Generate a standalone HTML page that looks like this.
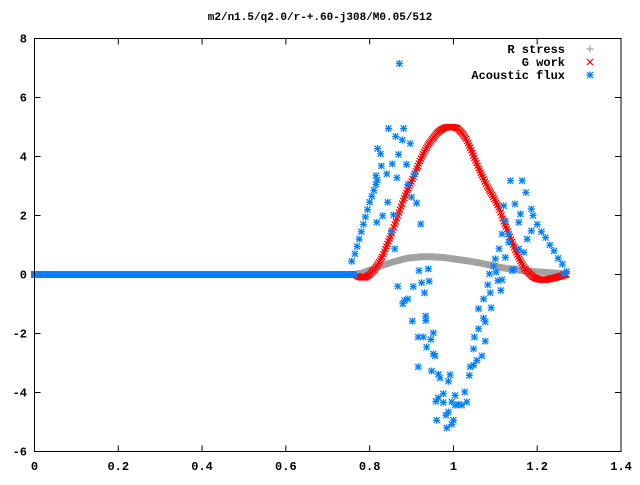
<!DOCTYPE html>
<html><head><meta charset="utf-8"><style>
body{margin:0;background:#fff;}
svg text{font-family:"Liberation Mono",monospace;font-weight:bold;font-size:12px;fill:#000;}
</style></head><body>
<svg id="chart" width="640" height="480" viewBox="0 0 640 480" xmlns="http://www.w3.org/2000/svg">
<text x="320" y="20" text-anchor="middle" style="font-size:11px">m2/n1.5/q2.0/r-+.60-j308/M0.05/512</text>
<g id="axes"></g>
<g id="marks"></g>
<g id="legend"></g>
<rect x="34.5" y="38.5" width="586.5" height="413" fill="none" stroke="#000" stroke-width="1"/>
</svg>
<script>
const xTicks=[0,0.2,0.4,0.6,0.8,1,1.2,1.4];
const xTickLabels=["0","0.2","0.4","0.6","0.8","1","1.2","1.4"];
const yTicks=[-6,-4,-2,0,2,4,6,8];
const yTickLabels=["-6","-4","-2","0","2","4","6","8"];
const curveX=[0.77,0.78,0.79,0.80,0.81,0.82,0.83,0.84,0.85,0.86,0.87,0.88,0.89,0.90,0.91,0.92,0.93,0.94,0.95,0.96,0.97,0.98,0.99,1.00,1.01,1.02,1.03,1.04,1.05,1.06,1.07,1.08,1.09,1.10,1.11,1.12,1.13,1.14,1.15,1.16,1.17,1.18,1.19,1.20,1.21,1.22,1.23,1.24,1.25,1.26,1.27];
const gWork=[-0.05,-0.1,-0.1,0.0,0.15,0.35,0.6,0.95,1.3,1.7,2.1,2.5,2.85,3.15,3.5,3.85,4.15,4.4,4.6,4.78,4.9,4.98,5.0,5.0,4.95,4.8,4.6,4.3,3.95,3.6,3.3,3.0,2.75,2.5,2.2,1.8,1.45,1.1,0.75,0.45,0.2,0.05,-0.08,-0.15,-0.18,-0.18,-0.15,-0.12,-0.08,-0.04,0.0];
const rStress=[0.02,0.05,0.1,0.15,0.2,0.25,0.3,0.35,0.4,0.44,0.48,0.52,0.55,0.57,0.58,0.6,0.6,0.6,0.6,0.59,0.58,0.57,0.55,0.53,0.51,0.49,0.47,0.45,0.42,0.4,0.37,0.34,0.31,0.28,0.25,0.22,0.2,0.18,0.16,0.14,0.12,0.11,0.1,0.09,0.08,0.07,0.06,0.05,0.04,0.03,0.02];
const baselineStart=0, baselineEnd=0.77, baselineValue=0;
const fluxX=[0.757,0.765,0.77,0.775,0.78,0.785,0.79,0.795,0.80,0.805,0.81,0.815,0.818,0.871,0.845,0.881,0.862,0.878,0.897,0.819,0.826,0.869,0.828,0.854,0.888,0.841,0.815,0.865,0.907,0.891,0.900,0.912,0.843,0.831,0.857,0.817,0.922,0.852,0.860,0.918,0.940,
1.136,1.164,1.173,1.147,1.120,1.160,1.186,1.124,1.156,1.116,1.132,1.186,1.176,1.132,1.109,1.156,1.168,1.100,1.124,1.144,1.19,1.20,1.21,1.22,1.23,1.24,1.25,1.26,1.27,
0.867,0.904,0.924,0.942,0.931,0.883,0.891,0.879,0.902,0.934,0.934,0.952,0.916,0.928,0.946,0.936,0.952,0.956,0.916,0.948,0.964,0.968,0.992,0.988,0.976,0.964,0.958,0.976,1.004,1.027,1.032,1.012,1.020,1.004,0.996,0.988,0.982,0.960,0.996,0.984,1.000,
1.038,1.040,1.048,1.056,1.068,1.048,1.076,1.050,1.060,1.076,1.072,1.060,1.090,1.072,1.088,1.113,1.082,1.106,1.116,1.086,1.102,1.096,1.140,1.263];
const fluxY=[0.45,0.7,0.95,1.2,1.45,1.7,1.95,2.2,2.45,2.65,2.85,3.05,3.2,7.15,4.95,4.95,4.68,4.56,4.44,4.27,4.09,4.07,3.68,3.75,3.73,3.41,3.35,3.28,3.40,3.05,2.62,2.42,2.45,1.99,2.02,1.77,1.71,1.45,0.87,0.13,0.19,
3.18,3.18,2.78,2.39,2.33,2.05,2.22,1.82,1.77,1.37,1.37,1.48,1.2,1.09,0.87,0.87,0.75,0.53,0.58,0.19,2.0,1.7,1.45,1.25,1.0,0.8,0.55,0.35,0.1,
-0.40,-0.41,-0.28,-0.23,-0.62,-0.88,-0.83,-0.99,-1.58,-1.41,-1.56,-1.98,-2.12,-2.12,-2.20,-2.46,-2.69,-2.76,-3.13,-3.27,-3.38,-3.51,-3.40,-3.62,-4.04,-4.18,-4.30,-4.34,-4.10,-3.98,-4.32,-4.40,-4.43,-4.43,-4.32,-4.66,-4.77,-4.94,-5.08,-5.20,-4.94,
-3.42,-3.13,-3.08,-2.91,-2.76,-2.52,-2.26,-2.12,-1.84,-1.61,-1.48,-1.16,-1.13,-0.83,-0.62,-0.54,-0.35,-0.21,-0.18,0.02,0.08,0.28,0.13,0.02];

const NS="http://www.w3.org/2000/svg";
const X0=34.5,X1=621,Y0=451.5,Y1=38.5,XMIN=0,XMAX=1.4,YMIN=-6,YMAX=8;
function sx(v){return X0+(v-XMIN)/(XMAX-XMIN)*(X1-X0);}
function sy(v){return Y0-(v-YMIN)/(YMAX-YMIN)*(Y0-Y1);}
function mk(tag,attrs,parent){const e=document.createElementNS(NS,tag);for(const k in attrs)e.setAttribute(k,attrs[k]);parent.appendChild(e);return e;}
const axes=document.getElementById('axes');
xTicks.forEach((t,i)=>{
  const x=sx(t);
  const tk=mk('path',{d:`M${x} ${Y0}v-6M${x} ${Y1}v6`,stroke:'#000','stroke-width':1},axes);
  
  
  const tx=mk('text',{x:x,y:470,'text-anchor':'middle'},axes);
  tx.textContent=xTickLabels[i];
  
  
});
yTicks.forEach((t,i)=>{
  const y=sy(t);
  const tk=mk('path',{d:`M${X0} ${y}h6M${X1} ${y}h-6`,stroke:'#000','stroke-width':1},axes);
  
  
  const tx=mk('text',{x:27,y:y+4,'text-anchor':'end'},axes);
  tx.textContent=yTickLabels[i];
  
  
});
const marks=document.getElementById('marks');
function plus(g,x,y,c){mk('path',{d:`M${x-3.5} ${y}h7M${x} ${y-3.5}v7`,stroke:c,'stroke-width':1.2},g);}
function cross(g,x,y,c){mk('path',{d:`M${x-3} ${y-3}l6 6M${x-3} ${y+3}l6 -6`,stroke:c,'stroke-width':1.2},g);}
function star(g,x,y,c){mk('path',{d:`M${x-3.5} ${y}h7M${x} ${y-3.5}v7M${x-3} ${y-3}l6 6M${x-3} ${y+3}l6 -6`,stroke:c,'stroke-width':1.2},g);}
const gR=mk('g',{},marks);


const gG=mk('g',{},marks);


const gF=mk('g',{},marks);


function dense(xs,ys,fn,g,c){for(let i=0;i<xs.length-1;i++){for(let k=0;k<4;k++){const f=k/4;fn(g,sx(xs[i]+(xs[i+1]-xs[i])*f),sy(ys[i]+(ys[i+1]-ys[i])*f),c);}}fn(g,sx(xs[xs.length-1]),sy(ys[ys.length-1]),c);}
dense(curveX,rStress,plus,gR,'#a0a0a0');
dense(curveX,gWork,cross,gG,'#ff0000');
mk('rect',{x:sx(baselineStart)-3.5,y:sy(baselineValue)-3.5,width:sx(baselineEnd)-sx(baselineStart)+3.5,height:7,fill:'#0080ff'},gF);
fluxX.forEach((x,i)=>star(gF,sx(x),sy(fluxY[i]),'#0080ff'));
const lg=document.getElementById('legend');
[["R stress",plus,'#a0a0a0'],["G work",cross,'#ff0000'],["Acoustic flux",star,'#0080ff']].forEach((e,i)=>{
  const y=49+i*13;
  const t=mk('text',{x:565,y:y+4,'text-anchor':'end'},lg);
  t.textContent=e[0];
  
  
  const g=mk('g',{},lg);
  
  
  e[1](g,590,y,e[2]);
});
</script>
</body></html>
